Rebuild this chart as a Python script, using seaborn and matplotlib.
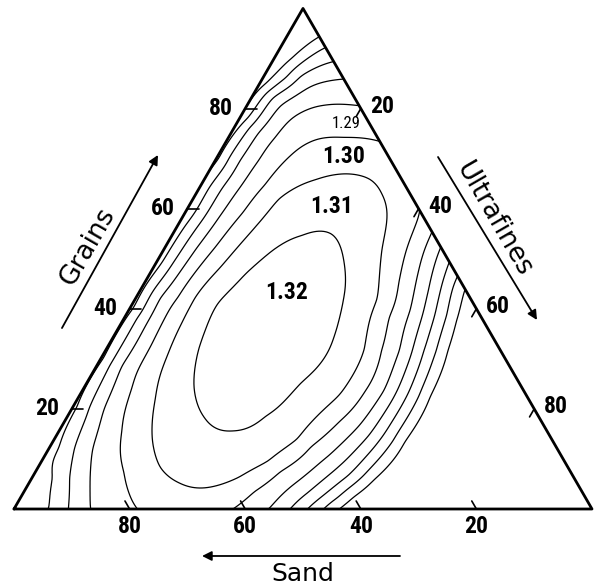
import numpy as np
import matplotlib
matplotlib.use("Agg")
import matplotlib.pyplot as plt
import matplotlib.tri as mtri
from matplotlib import font_manager as fm
import seaborn as sns

sns.set_theme(style="white")
plt.rcParams['font.family'] = ['DejaVu Sans']
plt.rcParams['text.color'] = 'black'

# ---------------- data ----------------
# iso-density lines: points as (Ultrafines %, Grains %); Sand = 100 - both
LEVELS = [1.25, 1.26, 1.27, 1.28, 1.29, 1.30, 1.31, 1.32]

ISO_132 = [(22.7, 54.4), (27.6, 55.0), (32.3, 49.5), (36.0, 41.9), (38.1, 34.4),
           (36.9, 25.2), (34.0, 18.8), (29.9, 15.8), (23.9, 18.3), (18.8, 24.6),
           (15.9, 32.1), (14.6, 41.1), (16.5, 47.1), (18.9, 51.7)]
ISO_131 = [(19.4, 65.7), (24.0, 67.0), (28.6, 66.0), (32.0, 62.9), (37.7, 51.8),
           (42.1, 41.8), (44.9, 31.8), (45.0, 22.7), (42.5, 13.7), (39.5, 9.3),
           (35.9, 6.2), (30.8, 4.2), (26.0, 5.3), (21.0, 8.3), (16.9, 14.0),
           (13.5, 22.0), (11.3, 30.2), (10.5, 37.2), (10.1, 42.3), (11.6, 48.2),
           (13.6, 56.6), (14.6, 62.1)]
ISO_130_UP = [(26.6, 73.4), (20.0, 74.1), (14.4, 73.1), (12.4, 70.2), (11.2, 64.6),
              (10.1, 59.2), (8.7, 52.2), (7.4, 42.2), (7.4, 32.8), (8.4, 24.1),
              (11.0, 15.5), (15.5, 7.4), (18.2, 3.4), (21.4, 0.0)]
ISO_130_LO = [(40.8, 58.8), (42.0, 51.8), (43.9, 45.2), (45.5, 38.4), (47.5, 31.7),
              (48.9, 23.6), (47.5, 17.6), (44.7, 12.7), (42.0, 7.7), (39.6, 3.7),
              (37.9, 0.0)]
ISO_129_UP = [(19.5, 80.5), (13.4, 80.6), (9.6, 78.7), (8.2, 74.2), (7.6, 69.6),
              (7.0, 64.2), (6.3, 58.2), (5.5, 52.2), (4.0, 42.3), (4.2, 28.8),
              (5.5, 20.1), (7.5, 12.1), (10.1, 6.1), (13.1, 0.0)]
ISO_129_LO = [(44.7, 55.3), (46.2, 47.7), (48.8, 39.7), (51.0, 31.7), (52.3, 23.6),
              (51.4, 16.6), (49.2, 10.6), (46.4, 5.6), (44.7, 2.3), (44.3, 0.0)]
ISO_128_UP = [(14.1, 85.9), (9.0, 84.3), (5.8, 80.7), (4.6, 75.3), (4.2, 69.7),
              (3.9, 64.3), (3.5, 56.3), (2.9, 49.3), (2.3, 43.3), (2.0, 38.3),
              (2.0, 28.9), (2.7, 20.2), (4.2, 12.2), (6.3, 6.2), (9.2, 0.0)]
ISO_128_LO = [(47.6, 52.4), (49.9, 43.7), (53.1, 31.7), (54.5, 22.6), (54.1, 14.6),
              (51.9, 8.6), (49.3, 3.2), (47.8, 0.0)]
ISO_127_UP = [(10.7, 89.3), (6.1, 86.7), (3.4, 82.4), (2.5, 76.4), (2.0, 70.3),
              (1.6, 64.3), (1.3, 56.7), (1.0, 50.7), (0.8, 40.0), (0.7, 30.0),
              (1.1, 20.2), (2.0, 12.2), (4.0, 6.2), (6.6, 0.0)]
ISO_127_LO = [(50.6, 49.4), (52.8, 40.7), (55.0, 31.6), (56.7, 21.5), (56.3, 13.5),
              (54.6, 6.5), (52.2, 2.6), (50.7, 0.0)]
ISO_126_UP = [(7.7, 92.3), (4.2, 86.0), (1.6, 78.0), (0.6, 70.0)]
ISO_126_LO = [(53.6, 46.4), (55.7, 38.6), (57.4, 31.6), (58.9, 22.5), (58.9, 13.5),
              (57.2, 6.5), (55.0, 2.1), (53.5, 0.0)]
ISO_125_UP = [(5.5, 94.3), (3.2, 90.0), (1.4, 85.0), (0.0, 80.0)]
ISO_125_LO = [(55.8, 44.2), (57.6, 37.6), (59.1, 31.6), (60.6, 22.5), (60.7, 13.5),
              (59.2, 5.9), (57.4, 2.5), (55.9, 0.0)]

# estimated values along the Ultrafines = 0 side (by Grains %)
EDGE_G = [100, 90, 70, 60, 50, 40, 30, 20, 10, 0]
EDGE_V = [1.22, 1.24, 1.258, 1.261, 1.264, 1.267, 1.268, 1.268, 1.267, 1.266]
# other estimated points (Ultrafines %, Grains %, value)
EXTRA = [(25.7, 36.0, 1.324), (33.0, 67.0, 1.305), (29.6, 0.0, 1.305),
         (100.0, 0.0, 1.20), (75.0, 25.0, 1.22), (75.0, 0.0, 1.22), (70.0, 15.0, 1.225)]

TICKS = [20, 40, 60, 80]
LABELS_IN = {"1.32": (0.4723, 0.3754), "1.31": (0.5502, 0.5242), "1.30": (0.5709, 0.6107)}

# ---------------- build the surface (smoothing thin-plate spline) ----------------
SQ3 = np.sqrt(3) / 2


def to_xy(u, g):
    u = np.asarray(u, float) / 100.0
    g = np.asarray(g, float) / 100.0
    return u + g / 2.0, g * SQ3


iso_sets = {1.32: ISO_132, 1.31: ISO_131, 1.30: ISO_130_UP + ISO_130_LO,
            1.29: ISO_129_UP + ISO_129_LO, 1.28: ISO_128_UP + ISO_128_LO,
            1.27: ISO_127_UP + ISO_127_LO, 1.26: ISO_126_UP + ISO_126_LO,
            1.25: ISO_125_UP + ISO_125_LO}
U, G, V = [], [], []
for lev, pts in iso_sets.items():
    for u, g in pts:
        U.append(u); G.append(g); V.append(lev)
for g, v in zip(EDGE_G, EDGE_V):
    U.append(0.0); G.append(g); V.append(v)
for u, g, v in EXTRA:
    U.append(u); G.append(g); V.append(v)
U = np.array(U); G = np.array(G); V = np.array(V)
px, py = to_xy(U, G)
X = np.column_stack([px, py])


def kern(r):
    with np.errstate(divide='ignore', invalid='ignore'):
        k = r ** 2 * np.log(r)
    return np.nan_to_num(k)


n = len(X)
D = np.linalg.norm(X[:, None, :] - X[None, :, :], axis=2)
K = kern(D) + 8e-4 * np.eye(n)
P = np.column_stack([np.ones(n), X])
A = np.block([[K, P], [P.T, np.zeros((3, 3))]])
b = np.concatenate([V, np.zeros(3)])
sol = np.linalg.solve(A, b)
w, a = sol[:n], sol[n:]

N = 220
idx = -np.ones((N + 1, N + 1), int)
gu, gg = [], []
for i in range(N + 1):
    for j in range(N + 1 - i):
        idx[i, j] = len(gu)
        gu.append(100.0 * i / N); gg.append(100.0 * j / N)
tris = []
for i in range(N):
    for j in range(N - i):
        tris.append((idx[i, j], idx[i + 1, j], idx[i, j + 1]))
        if i + j < N - 1:
            tris.append((idx[i + 1, j], idx[i + 1, j + 1], idx[i, j + 1]))
gx, gy = to_xy(gu, gg)
Q = np.column_stack([gx, gy])
Dq = np.linalg.norm(Q[:, None, :] - X[None, :, :], axis=2)
Z = kern(Dq) @ w + a[0] + a[1] * gx + a[2] * gy
tri = mtri.Triangulation(gx, gy, np.array(tris))

# ---------------- fonts ----------------


def pick(fams):
    for f in fams:
        try:
            fm.findfont(fm.FontProperties(family=f), fallback_to_default=False)
            return f
        except Exception:
            pass
    return 'DejaVu Sans'


NUMFONT = pick(['Liberation Sans Narrow', 'DejaVu Sans Condensed', 'Roboto Condensed',
                'Noto Sans Condensed', 'Open Sans Condensed', 'Liberation Sans'])
WORDFONT = pick(['DejaVu Sans'])
NUMKW = dict(family=NUMFONT, fontweight='bold', stretch='condensed', color='black')

# ---------------- draw ----------------
fig = plt.figure(figsize=(5.97, 5.88), dpi=100)
ax = fig.add_axes([0, 0, 1, 1])
ax.set_xlim(-14 / 578, 583 / 578)
ax.set_ylim(-79 / 578, 509 / 578)
ax.axis('off')

ax.tricontour(tri, Z, levels=LEVELS, colors='black', linewidths=0.9)

tx = [0.0, 1.0, 0.5, 0.0]
ty = [0.0, 0.0, SQ3, 0.0]
sns.lineplot(x=tx, y=ty, sort=False, estimator=None, color='black', lw=2.0, ax=ax)

tl = 0.016
for t in TICKS:
    # Sand ticks on base
    x0, y0 = to_xy(100 - t, 0)
    ax.plot([x0, x0 - 0.5 * tl], [y0, y0 + SQ3 * tl], color='black', lw=1.2)
    ax.text(x0, y0 - 0.030, str(t), ha='center', va='center', fontsize=17, **NUMKW)
    # Grains ticks on left side
    x0, y0 = to_xy(0, t)
    ax.plot([x0, x0 + 0.02], [y0, y0], color='black', lw=1.2)
    ax.text(x0 - 0.042, y0, str(t), ha='center', va='center', fontsize=17, **NUMKW)
    # Ultrafines ticks on right side
    x0, y0 = to_xy(t, 100 - t)
    ax.plot([x0, x0 - 0.5 * tl], [y0, y0 - SQ3 * tl], color='black', lw=1.2)
    ax.text(x0 + 0.037, y0 + 0.004, str(t), ha='center', va='center', fontsize=17, **NUMKW)

for s, (x, y) in LABELS_IN.items():
    ax.text(x, y, s, ha='center', va='center', fontsize=17, **NUMKW)
ax.text(0.5744, 0.6661, "1.29", ha='center', va='center', fontsize=12,
        family=NUMFONT, stretch='condensed', color='black')

arrow = dict(arrowstyle='-|>', color='black', lw=1.3, mutation_scale=14,
             shrinkA=0, shrinkB=0)
ax.annotate('', xy=(0.3253, -0.0813), xytext=(0.6678, -0.0813), arrowprops=arrow)
ax.annotate('', xy=(0.2491, 0.6125), xytext=(0.0830, 0.3131), arrowprops=arrow)
ax.annotate('', xy=(0.9048, 0.3270), xytext=(0.7336, 0.6090), arrowprops=arrow)

ax.text(0.5, -0.1125, "Sand", ha='center', va='center', fontsize=18,
        family=WORDFONT, color='black')
ax.text(0.128, 0.4533, "Grains", ha='center', va='center', fontsize=19,
        rotation=60, rotation_mode='anchor', family=WORDFONT, color='black')
ax.text(0.8304, 0.50, "Ultrafines", ha='center', va='center', fontsize=19,
        rotation=-60, rotation_mode='anchor', family=WORDFONT, color='black')

fig.savefig("out.png", dpi=100)
